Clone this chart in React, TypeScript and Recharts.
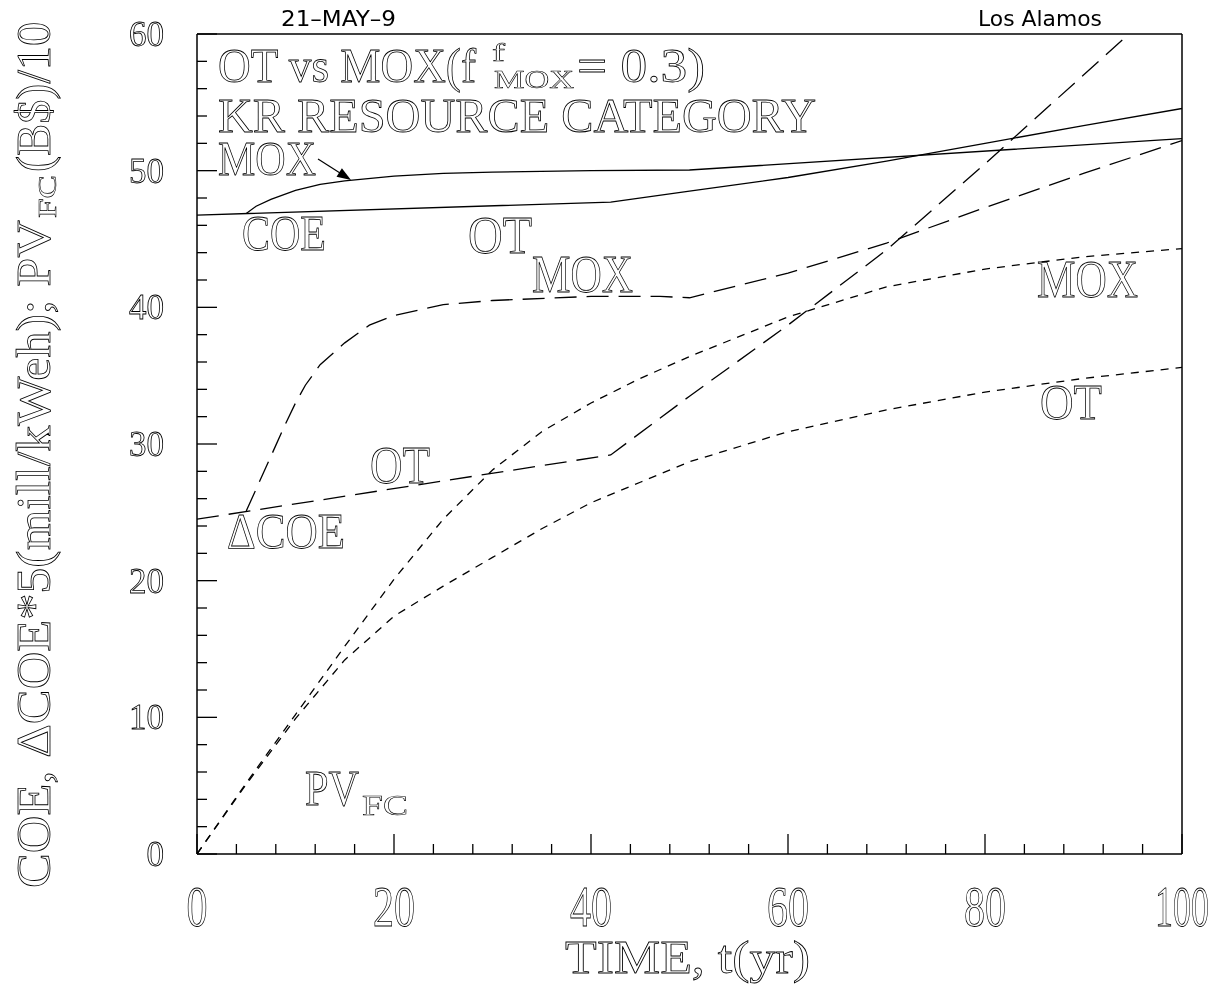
import { LineChart, Line, XAxis, YAxis } from "recharts";

// time (yr), value pairs
const coeOT: [number, number][] = [
  [0, 46.75], [42, 47.7], [50, 48.5], [60, 49.5], [70, 50.7], [80, 52.0], [90, 53.3], [100, 54.55],
];
const coeMOX: [number, number][] = [
  [5, 46.86], [6, 47.4], [7.5, 47.9], [10, 48.55], [12.5, 49.0], [15, 49.25], [20, 49.6],
  [25, 49.8], [30, 49.9], [40, 50.0], [50, 50.05], [100, 52.35],
];
const dcoeOT: [number, number][] = [
  [0, 24.5], [42, 29.2], [50, 33.5], [60, 38.7], [70, 44.2], [80, 50.5], [90, 57.0], [100, 63.5],
];
const dcoeMOX: [number, number][] = [
  [5, 25.1], [6, 26.7], [7, 28.3], [8, 29.9], [9, 31.5], [10, 33.0], [11, 34.3], [12.5, 35.8],
  [15, 37.4], [17.5, 38.7], [20, 39.4], [25, 40.2], [30, 40.5], [40, 40.8], [47, 40.8],
  [50, 40.7], [60, 42.5], [70, 44.7], [80, 47.3], [90, 49.8], [100, 52.2],
];
const pvMOX: [number, number][] = [
  [0, 0], [5, 5.2], [10, 10.2], [15, 15.2], [20, 20.1], [25, 24.5], [30, 28.1], [35, 30.9],
  [40, 33.0], [45, 34.8], [50, 36.4], [60, 39.3], [70, 41.5], [80, 42.8], [90, 43.7], [100, 44.3],
];
const pvOT: [number, number][] = [
  [0, 0], [5, 5.1], [10, 9.9], [15, 14.2], [20, 17.4], [25, 19.6], [30, 21.7], [35, 23.8],
  [40, 25.7], [45, 27.2], [50, 28.7], [60, 30.9], [70, 32.5], [80, 33.8], [90, 34.8], [100, 35.6],
];

const xTicks = [0, 4, 8, 12, 16, 20, 24, 28, 32, 36, 40, 44, 48, 52, 56, 60, 64, 68, 72, 76, 80, 84, 88, 92, 96, 100];
const yTicks = [0, 2, 4, 6, 8, 10, 12, 14, 16, 18, 20, 22, 24, 26, 28, 30, 32, 34, 36, 38, 40, 42, 44, 46, 48, 50, 52, 54, 56, 58, 60];

const rows = (s: [number, number][]) => s.map(([t, v]) => ({ t, v }));

// double-stroke look of the plotting package's roman font
const hershey = {
  fontFamily: "'Liberation Serif', 'DejaVu Serif', serif",
  fill: "none",
  stroke: "#000",
  strokeWidth: 0.8,
};
const hersheySmall = { ...hershey, strokeWidth: 0.55 };

const BottomTick = (p: any) => {
  const v = p.payload.value;
  const major = v % 20 === 0;
  const n = String(v).length;
  return (
    <g>
      <line x1={p.x} y1={p.y} x2={p.x} y2={p.y - (major ? 20 : 10)} stroke="#000" strokeWidth={1.3} />
      {major && (
        <text x={p.x} y={p.y + 72} textAnchor="middle" fontSize={56} textLength={n === 3 ? 54 : n * 21}
          lengthAdjust="spacingAndGlyphs" {...hershey}>
          {v}
        </text>
      )}
    </g>
  );
};

const TopTick = (p: any) => {
  const major = p.payload.value % 20 === 0;
  return <line x1={p.x} y1={p.y} x2={p.x} y2={p.y + (major ? 20 : 10)} stroke="#000" strokeWidth={1.3} />;
};

const LeftTick = (p: any) => {
  const v = p.payload.value;
  const major = v % 10 === 0;
  return (
    <g>
      <line x1={p.x} y1={p.y} x2={p.x + (major ? 20 : 10)} y2={p.y} stroke="#000" strokeWidth={1.3} />
      {major && (
        <text x={p.x - 33} y={p.y + 12} textAnchor="end" fontSize={35} {...hershey}>
          {v}
        </text>
      )}
    </g>
  );
};

const RightTick = (p: any) => {
  const major = p.payload.value % 10 === 0;
  return <line x1={p.x} y1={p.y} x2={p.x - (major ? 20 : 10)} y2={p.y} stroke="#000" strokeWidth={1.3} />;
};

export default function App() {
  const axisLine = { stroke: "#000", strokeWidth: 1.5 };
  return (
    <div style={{ position: "absolute", left: 0, top: 0, width: 1225, height: 997 }}>
      <div style={{ position: "absolute", left: 0, top: 0, willChange: "transform" }}>
        <LineChart width={1225} height={997} margin={{ top: 24, right: 33, bottom: 103, left: 157 }}>
          <XAxis dataKey="t" type="number" domain={[0, 100]} ticks={xTicks} interval={0} height={40}
            allowDataOverflow axisLine={axisLine} tickLine={false} tickSize={0} tickMargin={0} tick={BottomTick} />
          <XAxis xAxisId="top" orientation="top" dataKey="t" type="number" domain={[0, 100]} ticks={xTicks}
            interval={0} height={10} axisLine={axisLine} tickLine={false} tickSize={0} tickMargin={0} tick={TopTick} />
          <YAxis type="number" domain={[0, 60]} ticks={yTicks} interval={0} width={40} allowDataOverflow
            axisLine={axisLine} tickLine={false} tickSize={0} tickMargin={0} tick={LeftTick} />
          <YAxis yAxisId="right" orientation="right" type="number" domain={[0, 60]} ticks={yTicks} interval={0}
            width={10} axisLine={axisLine} tickLine={false} tickSize={0} tickMargin={0} tick={RightTick} />

          <Line data={rows(coeOT)} dataKey="v" type="linear" stroke="#000" strokeWidth={1.3} dot={false} isAnimationActive={false} />
          <Line data={rows(coeMOX)} dataKey="v" type="linear" stroke="#000" strokeWidth={1.3} dot={false} isAnimationActive={false} />
          <Line data={rows(dcoeOT)} dataKey="v" type="linear" stroke="#000" strokeWidth={1.3} strokeDasharray="22 10" dot={false} isAnimationActive={false} />
          <Line data={rows(dcoeMOX)} dataKey="v" type="linear" stroke="#000" strokeWidth={1.3} strokeDasharray="22 10" dot={false} isAnimationActive={false} />
          <Line data={rows(pvMOX)} dataKey="v" type="linear" stroke="#000" strokeWidth={1.3} strokeDasharray="8 7" dot={false} isAnimationActive={false} />
          <Line data={rows(pvOT)} dataKey="v" type="linear" stroke="#000" strokeWidth={1.3} strokeDasharray="8 7" dot={false} isAnimationActive={false} />
        </LineChart>
      </div>

      <svg width={1225} height={997}
        style={{ position: "absolute", left: 0, top: 0, pointerEvents: "none", willChange: "transform" }}>
        <text x={281} y={26} fontSize={21} textLength={115} lengthAdjust="spacingAndGlyphs"
          fontFamily="'DejaVu Sans', sans-serif" fill="#000">21–MAY–9</text>
        <text x={978} y={26} fontSize={21} textLength={124} lengthAdjust="spacingAndGlyphs"
          fontFamily="'DejaVu Sans', sans-serif" fill="#000">Los Alamos</text>

        <text x={218} y={82} fontSize={48} textLength={258} lengthAdjust="spacingAndGlyphs" {...hershey}>OT vs MOX(f</text>
        <text x={492} y={61} fontSize={26} textLength={13} lengthAdjust="spacingAndGlyphs" {...hersheySmall}>f</text>
        <text x={494} y={88} fontSize={26} textLength={80} lengthAdjust="spacingAndGlyphs" {...hersheySmall}>MOX</text>
        <text x={577} y={82} fontSize={48} textLength={128} lengthAdjust="spacingAndGlyphs" {...hershey}>= 0.3)</text>
        <text x={218} y={132} fontSize={48} textLength={598} lengthAdjust="spacingAndGlyphs" {...hershey}>KR RESOURCE CATEGORY</text>

        <text x={218} y={175} fontSize={48} textLength={98} lengthAdjust="spacingAndGlyphs" {...hershey}>MOX</text>
        <line x1={318} y1={159} x2={340} y2={173} stroke="#000" strokeWidth={1.2} />
        <polygon points="351,180 336.5,176.7 341.9,168.3" fill="#000" />

        <text x={242} y={250} fontSize={50} textLength={84} lengthAdjust="spacingAndGlyphs" {...hershey}>COE</text>
        <text x={468} y={253} fontSize={52} textLength={64} lengthAdjust="spacingAndGlyphs" {...hershey}>OT</text>
        <text x={532} y={292} fontSize={52} textLength={101} lengthAdjust="spacingAndGlyphs" {...hershey}>MOX</text>
        <text x={1037} y={297} fontSize={52} textLength={101} lengthAdjust="spacingAndGlyphs" {...hershey}>MOX</text>
        <text x={1040} y={419} fontSize={50} textLength={62} lengthAdjust="spacingAndGlyphs" {...hershey}>OT</text>
        <text x={370} y={483} fontSize={52} textLength={60} lengthAdjust="spacingAndGlyphs" {...hershey}>OT</text>
        <text x={227} y={548} fontSize={50} textLength={118} lengthAdjust="spacingAndGlyphs" {...hershey}>ΔCOE</text>
        <text x={305} y={805} fontSize={50} textLength={54} lengthAdjust="spacingAndGlyphs" {...hershey}>PV</text>
        <text x={362} y={815} fontSize={30} textLength={46} lengthAdjust="spacingAndGlyphs" {...hersheySmall}>FC</text>

        <text x={565} y={973} fontSize={47} textLength={245} lengthAdjust="spacingAndGlyphs" {...hershey}>TIME, t(yr)</text>

        <g transform="rotate(-90)">
          <text x={-888} y={50} fontSize={48} textLength={668} lengthAdjust="spacingAndGlyphs" {...hershey}>
            COE, ΔCOE*5(mill/kWeh); PV
          </text>
          <text x={-218} y={56} fontSize={26} textLength={43} lengthAdjust="spacingAndGlyphs" {...hersheySmall}>FC</text>
          <text x={-172} y={50} fontSize={48} textLength={150} lengthAdjust="spacingAndGlyphs" {...hershey}>(B$)/10</text>
        </g>
      </svg>
    </div>
  );
}
